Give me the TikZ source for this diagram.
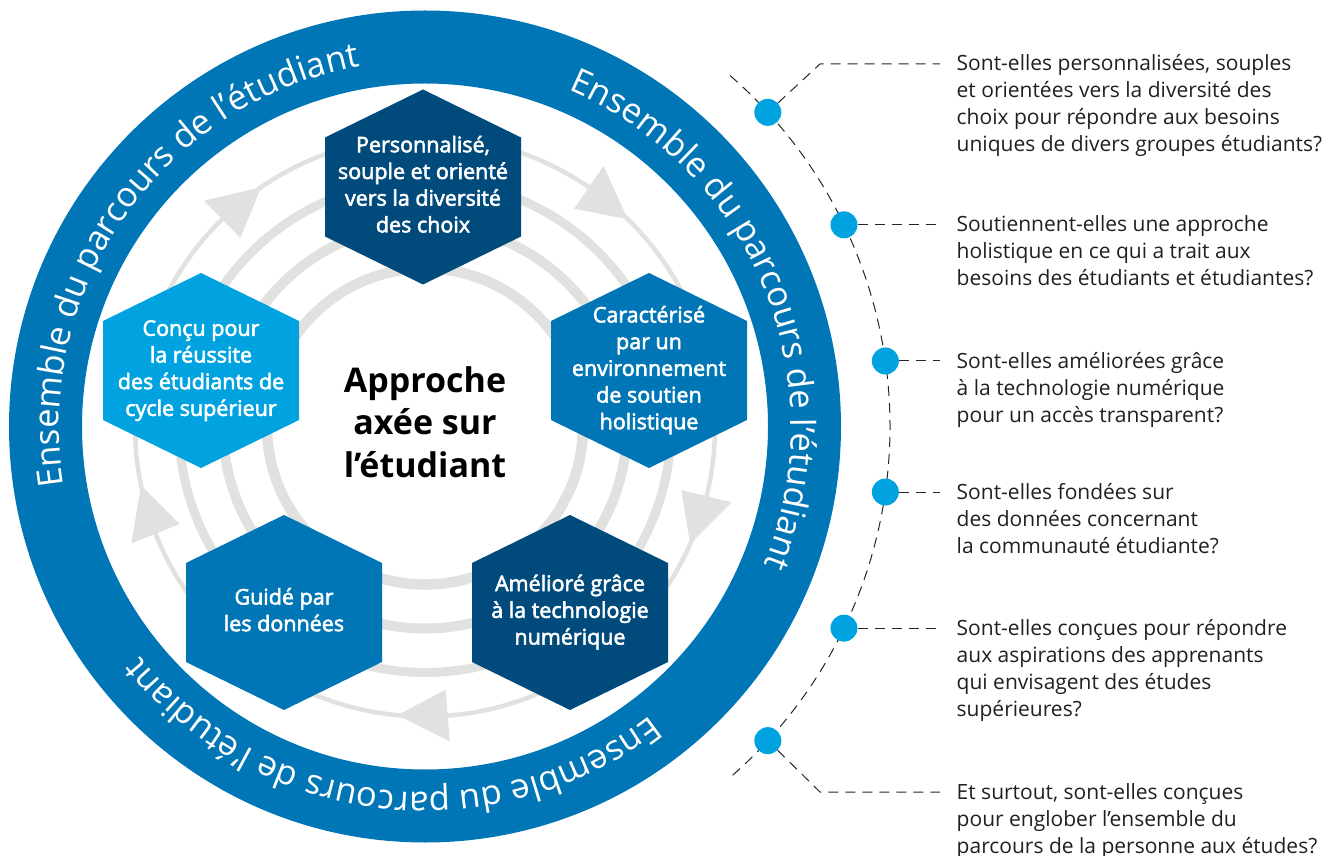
\documentclass[tikz,border=0pt]{standalone}
\usepackage{fontspec}
\setmainfont{Open Sans}
\newfontfamily\hexfont{Open Sans}[FakeBold=2.6]
\usetikzlibrary{decorations.text,calc}
\definecolor{ringblue}{HTML}{0076B6}
\definecolor{navy}{HTML}{004A7C}
\definecolor{lightblue}{HTML}{00A3E0}
\definecolor{arcgrey}{HTML}{E1E1E0}
\definecolor{qgrey}{HTML}{231F20}
\definecolor{dashgrey}{HTML}{262626}
\newcommand\hexshape[2]{\fill[#1] ([shift={(0,97.5)}]#2) -- ++(98,-48) -- ++(0,-99) -- ++(-98,-48) -- ++(-98,48) -- ++(0,99) -- cycle;}
\begin{document}
\begin{tikzpicture}[x=1pt,y=1pt,
  hexlabel/.style={text=white, align=center, inner sep=0pt, font=\hexfont\fontsize{21.5}{26.7}\selectfont},
  qtext/.style={text=qgrey, align=left, anchor=north west, inner sep=0pt, font=\fontsize{21}{27}\selectfont},
  centertext/.style={text=black, align=center, inner sep=0pt, font=\fontsize{34}{42.5}\selectfont\bfseries},
  dashline/.style={draw=dashgrey, line width=1pt, dash pattern=on 10pt off 7pt},
  dotnode/.style={circle, fill=lightblue, minimum size=27pt, inner sep=0pt},
  greyring/.style={draw=arcgrey},
  arrowtri/.style={fill=arcgrey},
  ringtext/.style={decorate, decoration={text along path, text align=center, text color=white,
     text={|\fontsize{34.5}{40}\selectfont|Ensemble du parcours de l'étudiant}}}
]
\useasboundingbox (0,0) rectangle (1344,855);
\coordinate (C) at (425,428.5);
% grey circles
\draw[greyring, line width=10.5pt] (C) circle[radius=158];
\draw[greyring, line width=10pt] (C) circle[radius=202];
\draw[greyring, line width=9pt] (C) circle[radius=246];
\draw[greyring, line width=4.5pt] (C) circle[radius=290];
% arrows
\foreach \a [evaluate=\a as \b using \a-10] in {134.4,55.6,-13.9,-85.5,-158.3}{
  \fill[arrowtri] ([shift={(\a:316)}]C) -- ([shift={(\a:264)}]C) -- ([shift={(\b:290)}]C) -- cycle;
}
% outer ring
\draw[ringblue, line width=73pt] (C) circle[radius=379.5];
\path[ringtext] ([shift={(194.7:366)}]C) arc[start angle=194.7, end angle=94.7, radius=366];
\path[ringtext] ([shift={(72.4:366)}]C) arc[start angle=72.4, end angle=-27.6, radius=366];
\path[ringtext] ([shift={(-46.6:366)}]C) arc[start angle=-46.6, end angle=-146.6, radius=366];
% hexagons
\coordinate (h1) at (423,668);
\coordinate (h2) at (649,484.5);
\coordinate (h3) at (570,242.5);
\coordinate (h4) at (284,242.5);
\coordinate (h5) at (201,484.5);
\hexshape{navy}{h1}
\hexshape{ringblue}{h2}
\hexshape{navy}{h3}
\hexshape{ringblue}{h4}
\hexshape{lightblue}{h5}
\node[hexlabel] (t1) at (h1) {\strut Personnalisé,\\souple et orienté\\vers la diversité\\des choix\strut};
\node[hexlabel] (t2) at (h2) {\strut Caractérisé\\par un\\environnement\\de soutien\\holistique\strut};
\node[hexlabel] (t3) at (h3) {\strut Amélioré grâce\\à la technologie\\numérique\strut};
\node[hexlabel] (t4) at (h4) {\strut Guidé par\\les données\strut};
\node[hexlabel] (t5) at (h5) {\strut Conçu pour\\la réussite\\des étudiants de\\cycle supérieur\strut};
\node[centertext] (ctr) at (C) {\strut Approche\\axée sur\\l’étudiant\strut};
% dashed arc and dots
\draw[dashline] ([shift={(49:465)}]C) arc[start angle=49, end angle=-49, radius=465];
\foreach \i/\a in {1/42.5,2/25.7,3/8.1,4/-8.1,5/-25.7,6/-42.5}
  \node[dotnode] (d\i) at ([shift={(\a:465)}]C) {};
\coordinate (xr) at (940,0);
\coordinate (k1) at (820,791);
\coordinate (k6) at (820,63);
\coordinate (e1) at (k1 -| xr);
\coordinate (e2) at (d2 -| xr);
\coordinate (e3) at (d3 -| xr);
\coordinate (e4) at (d4 -| xr);
\coordinate (e5) at (d5 -| xr);
\coordinate (e6) at (k6 -| xr);
\draw[dashline] (d1) -- (k1) -- (e1);
\draw[dashline] (d2) -- (e2);
\draw[dashline] (d3) -- (e3);
\draw[dashline] (d4) -- (e4);
\draw[dashline] (d5) -- (e5);
\draw[dashline] (d6) -- (k6) -- (e6);
% question texts
\node[qtext] (q1) at ([xshift=16.5pt,yshift=13pt]e1) {\strut Sont-elles personnalisées, souples\\et orientées vers la diversité des\\choix pour répondre aux besoins\\uniques de divers groupes étudiants?};
\node[qtext] (q2) at ([xshift=16.5pt,yshift=12pt]e2) {\strut Soutiennent-elles une approche\\holistique en ce qui a trait aux\\besoins des étudiants et étudiantes?};
\node[qtext] (q3) at ([xshift=16.5pt,yshift=12pt]e3) {\strut Sont-elles améliorées grâce\\à la technologie numérique\\pour un accès transparent?};
\node[qtext] (q4) at ([xshift=16.5pt,yshift=12pt]e4) {\strut Sont-elles fondées sur\\des données concernant\\la communauté étudiante?};
\node[qtext] (q5) at ([xshift=16.5pt,yshift=12pt]e5) {\strut Sont-elles conçues pour répondre\\aux aspirations des apprenants\\qui envisagent des études\\supérieures?};
\node[qtext] (q6) at ([xshift=16.5pt,yshift=12pt]e6) {\strut Et surtout, sont-elles conçues\\pour englober l’ensemble du\\parcours de la personne aux études?};
\end{tikzpicture}
\end{document}
